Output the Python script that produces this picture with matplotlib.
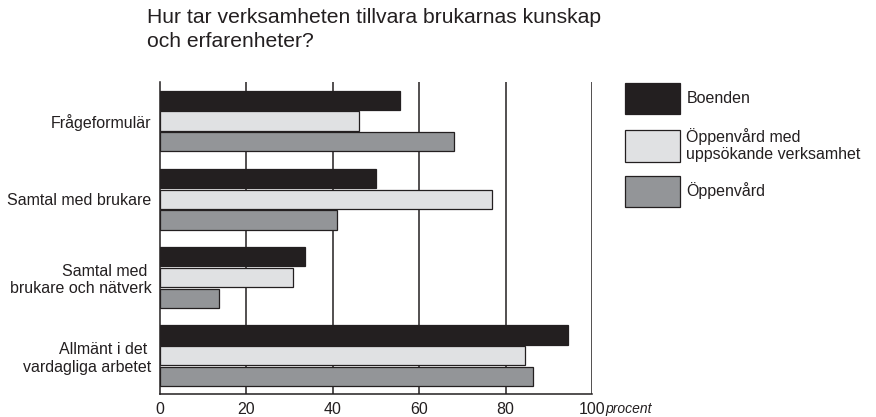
import matplotlib
matplotlib.use('Agg')
from matplotlib import pyplot as plt
import numpy as np

# data (percent)
categories = ['Frågeformulär', 'Samtal med brukare', 'Samtal med \nbrukare och nätverk',
              'Allmänt i det \nvardagliga arbetet']
series_names = ['Boenden', 'Öppenvård med\nuppsökande verksamhet', 'Öppenvård']
boenden = [55.6, 50.1, 33.5, 94.5]
oppenvard_uppsok = [46.1, 76.9, 30.8, 84.5]
oppenvard = [68.1, 40.9, 13.6, 86.3]
xticks = [0, 20, 40, 60, 80, 100]

colors = ['#231f20', '#e0e1e3', '#939598']
edge = '#231f20'

plt.rcParams['font.family'] = ['Liberation Sans', 'DejaVu Sans']

fig = plt.figure(figsize=(8.76, 4.17), dpi=100)
ax = fig.add_axes([160 / 876, 23 / 417, 432 / 876, 312 / 417])

ys = np.arange(len(categories))
step, height = 0.264, 0.246
for i, (vals, col) in enumerate(zip([boenden, oppenvard_uppsok, oppenvard], colors)):
    ax.barh(ys + (i - 1) * step, vals, height=height, color=col, edgecolor=edge,
            linewidth=0.9, label=series_names[i], zorder=3)

ax.set_xlim(0, 100)
ax.set_ylim(3.49, -0.5)
ax.set_yticks(ys)
ax.set_yticklabels(categories, fontsize=11.5, linespacing=1.2, color='#231f20')
ax.set_xticks(xticks)
ax.set_xticklabels([str(t) for t in xticks], fontsize=11.5, color='#231f20')
ax.tick_params(axis='y', length=0, pad=6)
ax.tick_params(axis='x', length=0, pad=6)
for t in xticks[1:]:
    ax.axvline(t, color=edge, linewidth=1.1, zorder=1)
for s in ['top', 'right']:
    ax.spines[s].set_visible(False)
for s in ['left', 'bottom']:
    ax.spines[s].set_color(edge)
    ax.spines[s].set_linewidth(1.1)

ax.text(103.2, -0.048, 'procent', transform=ax.get_xaxis_transform(), fontsize=10,
        style='italic', ha='left', va='center', color='#231f20')

fig.text(147 / 876, 1 - 8 / 417, 'Hur tar verksamheten tillvara brukarnas kunskap\noch erfarenheter?',
         fontsize=15.2, ha='left', va='top', linespacing=1.33, color='#231f20')

leg = fig.legend(loc='upper left', bbox_to_anchor=(625 / 876, 1 - 83 / 417), frameon=False,
                 fontsize=11.5, handlelength=3.45, handleheight=2.62, handletextpad=0.4,
                 labelspacing=0.85, borderaxespad=0, borderpad=0)
for t in leg.get_texts():
    t.set_color('#231f20')

fig.savefig('out.png', dpi=100)
